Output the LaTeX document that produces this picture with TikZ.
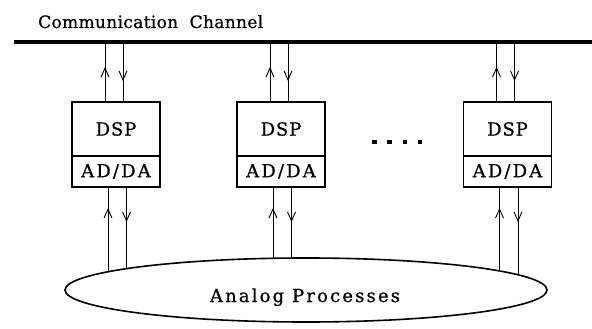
\documentclass[tikz,border=0pt]{standalone}
\usepackage{fontspec}
\setmainfont{DejaVu Serif}
\newfontfamily\dspfont[LetterSpace=5,FakeBold=0.8]{DejaVu Serif}
\newfontfamily\widefont[LetterSpace=12,FakeBold=0.8]{DejaVu Serif}
\newfontfamily\titlefont[LetterSpace=2,FakeBold=0.8]{DejaVu Serif}
\usetikzlibrary{arrows.meta,positioning,calc,shapes.geometric,decorations.markings}

\begin{document}
\begin{tikzpicture}[
    x=1pt, y=-1pt,
    dspbox/.style={rectangle, draw, line width=1.6pt, outer sep=0pt, minimum width=88pt, minimum height=54pt, font=\dspfont\fontsize{18}{20}\selectfont},
    adbox/.style={rectangle, draw, line width=1.6pt, outer sep=0pt, minimum width=88pt, minimum height=31pt, font=\widefont\fontsize{18}{20}\selectfont},
    txt/.style={font=\widefont\fontsize{18}{20}\selectfont, inner sep=0pt},
    wire/.style={line width=0.9pt, postaction={decorate}, decoration={markings, mark=at position #1 with {\arrow{Straight Barb[length=9pt,width=8pt,line width=0.9pt]}}}}
]
    \useasboundingbox (0,0) rectangle (592,329);

    % communication channel
    \node[txt, font=\titlefont\fontsize{17}{19}\selectfont, anchor=base west] (title) at (38,28) {Communication\ \ Channel};
    \coordinate (busL) at (14,42);
    \coordinate (busR) at (592,42);
    \draw[line width=4pt] (busL) -- (busR);

    % analog side
    \node[ellipse, draw, line width=1.6pt, minimum width=482pt, minimum height=64pt] (proc) at (306,290) {};
    \node[txt, anchor=base] (proctxt) at (305,302) {Analog Processes};

    % processor boards
    \foreach \i/\x/\ya/\yb in {1/116/271.8/268.6, 2/281/258.3/258.1, 3/507.5/271.0/274.8} {
        \node[dspbox] (dsp\i) at (\x,129) {DSP};
        \node[adbox, anchor=north] (ad\i) at (dsp\i.south) {AD/DA};
        \coordinate (up\i) at ($(dsp\i.north)+(-11,0)$);
        \coordinate (dn\i) at ($(dsp\i.north)+(7,0)$);
        \coordinate (lu\i) at ($(ad\i.south)+(-8,\ya-187)$);
        \coordinate (ld\i) at ($(ad\i.south)+(10.5,\yb-187)$);
        \draw[wire=35pt] (up\i) -- (up\i |- busL);
        \draw[wire=39pt] (dn\i |- busL) -- (dn\i);
        \draw[wire=-21pt] (lu\i) -- (lu\i |- ad\i.south);
        \draw[wire=35pt] (ld\i |- ad\i.south) -- (ld\i);
    }

    % more boards
    \foreach \d in {0,1,2,3}
        \fill ($(372,144)+(15.3*\d,0)$) rectangle ++(4.5,-4.5);
\end{tikzpicture}
\end{document}
